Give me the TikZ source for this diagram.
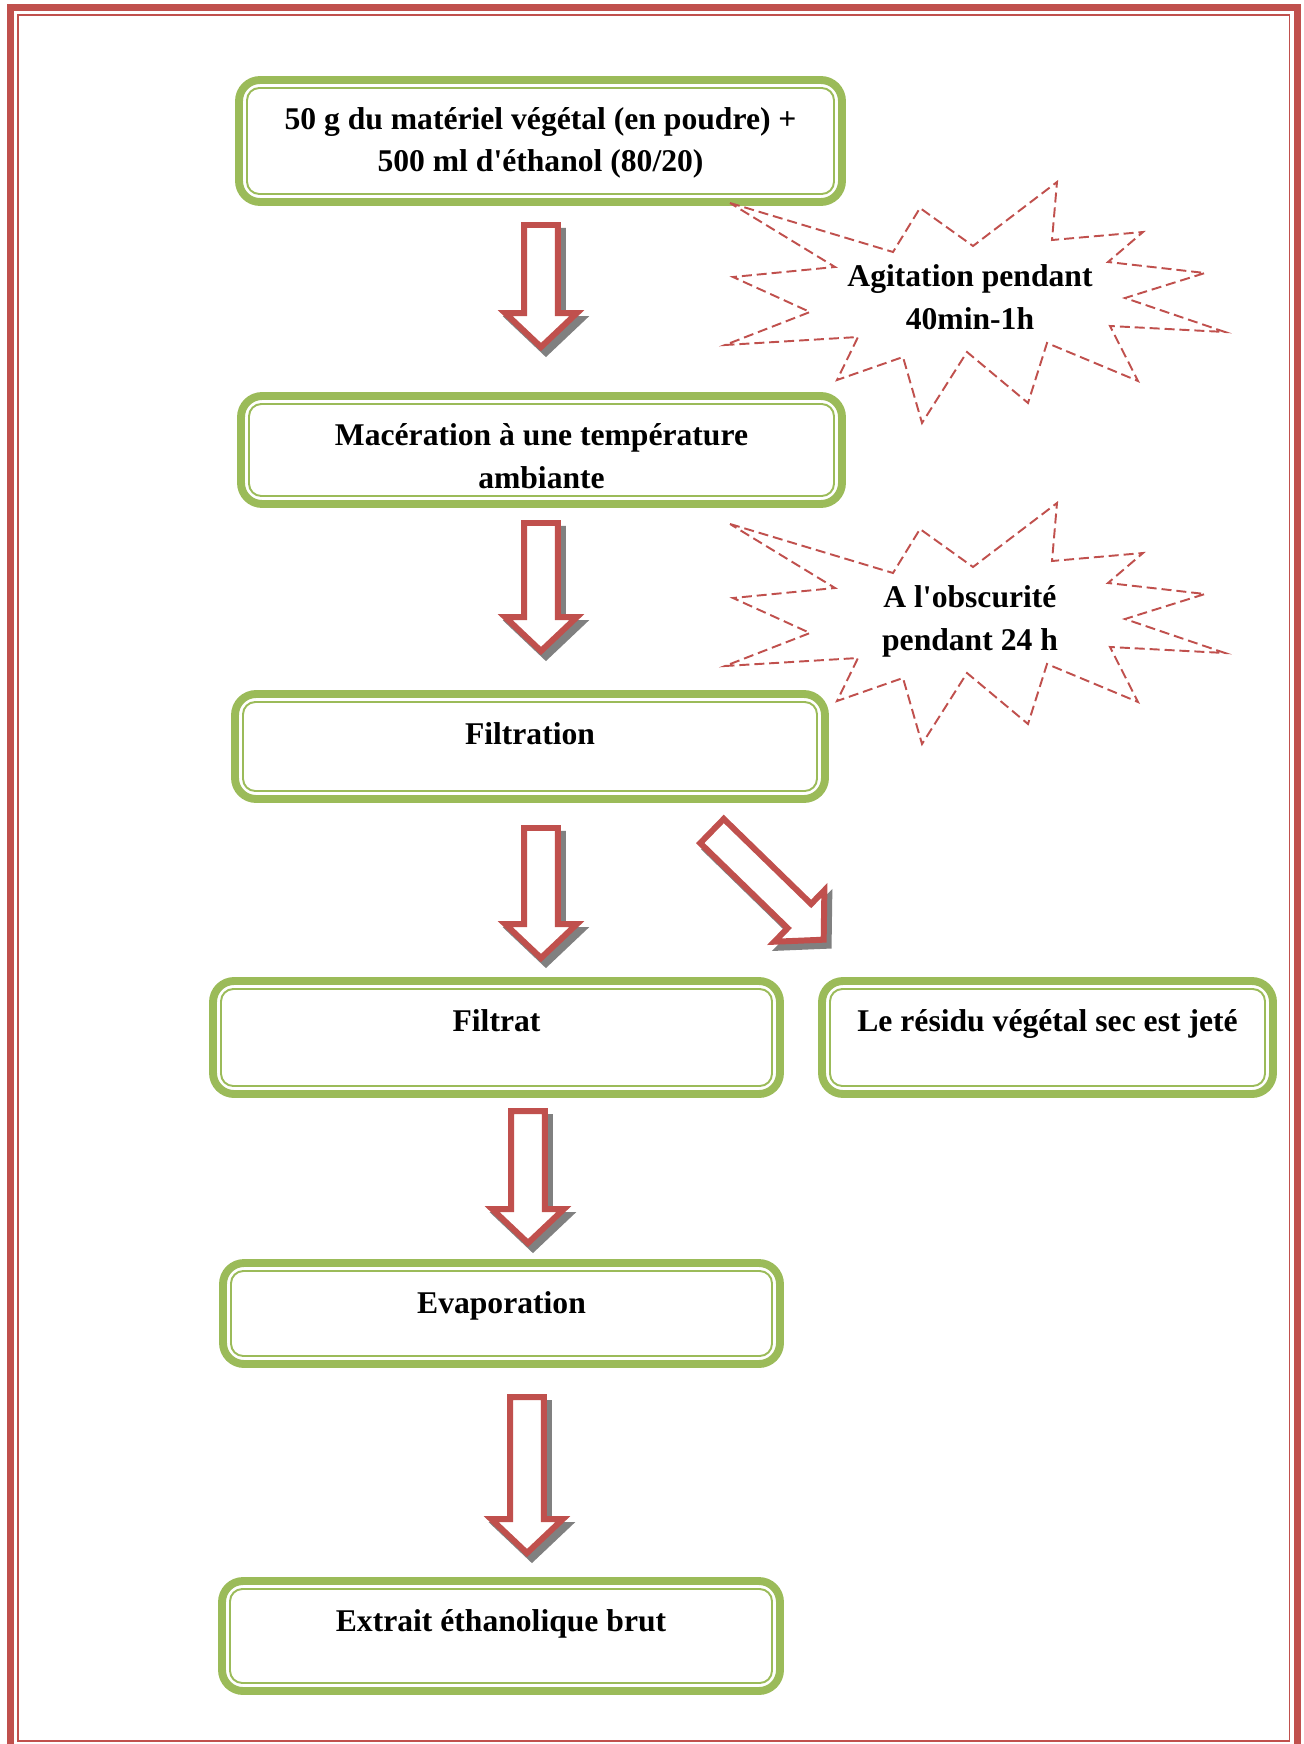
\documentclass[tikz,border=0pt]{standalone}
\usepackage{fontspec}
\setmainfont{Liberation Serif}
\usetikzlibrary{calc}

\definecolor{framered}{HTML}{C0504D}
\definecolor{boxgreen}{HTML}{9BBB59}
\definecolor{shadowgray}{HTML}{808080}

\tikzset{
 greenbox/.style={draw=boxgreen,line width=4.5pt,rounded corners=12pt,inner sep=0pt,outer sep=0pt},
 greenthin/.style={draw=boxgreen,line width=1.1pt,rounded corners=7pt},
 boxtext/.style={align=center,anchor=base,inner sep=0pt},
 burstline/.style={draw=framered,line width=1.1pt,dash pattern=on 5.7pt off 2.8pt},
 arrowshadow/.style={fill=shadowgray,draw=shadowgray,line width=3.4pt},
 arrowbody/.style={fill=white,draw=framered,line width=3.4pt}
}

% hollow block arrow from tail to tip
\newcommand{\blockarrow}[2]{%
 \path #1; \pgfgetlastxy{\bax}{\bay}%
 \path #2; \pgfgetlastxy{\bbx}{\bby}%
 \pgfmathsetmacro{\baang}{atan2(\bby-\bay,\bbx-\bax)}%
 \pgfmathsetmacro{\balen}{veclen(\bbx-\bax,\bby-\bay)}%
 \foreach \sx/\sy/\sty in {2.8/-3.4/arrowshadow,0/0/arrowbody}
  \draw[\sty,shift={(\bax+\sx pt,\bay+\sy pt)},rotate=\baang]
   (0pt,-9.6pt) -- (\balen pt-19.3pt,-9.6pt) -- (\balen pt-19.3pt,-20.4pt)
   -- (\balen pt,0pt) -- (\balen pt-19.3pt,20.4pt) -- (\balen pt-19.3pt,9.6pt)
   -- (0pt,9.6pt) -- cycle;
}

\begin{document}
\begin{tikzpicture}[x=0.02cm,y=-0.02cm,font=\bfseries\fontsize{18}{24}\selectfont]
\useasboundingbox (0,0) rectangle (1304,1744);
% page frame
\draw[framered,line width=4pt] (10.5,7.5) rectangle (1297.5,1749);
\draw[framered,line width=1.1pt] (17.7,15) rectangle (1289.5,1741.3);
% steps
\foreach \n/\cx/\cy/\w/\h/\ty/\txt in {
 b1/540.5/141/603/122/92/{50 g du matériel végétal (en poudre) +\\500 ml d\textquotesingle éthanol (80/20)},
 b2/541.5/450/601/108/92/{Macération à une température\\ambiante},
 b3/530/746.5/590/105/50/{Filtration},
 b4/496.5/1037.5/567/113/50/{Filtrat},
 b5/1047.5/1037.5/451/113/50/{Le résidu végétal sec est jeté},
 b6/501.5/1313.5/557/101/50/{Evaporation},
 b7/501/1636/558/110/50/{Extrait éthanolique brut}}
{
 \node[greenbox,minimum width=\w*0.02cm,minimum height=\h*0.02cm] (\n) at (\cx,\cy) {};
 \draw[greenthin] ($(\n.north west)+(8,8)$) rectangle ($(\n.south east)+(-8,-8)$);
 \node[boxtext] (\n-t) at ($(\n.north)+(0,\ty)$) {\txt};
}
% conditions
\foreach \dy/\n/\txt in {0/agit/{Agitation pendant\\40min-1h},321/obsc/{A l\textquotesingle obscurité\\pendant 24 h}}
{
 \draw[burstline,shift={(0,\dy)}] (730,203) -- (893,252) -- (920,208) -- (973,246) -- (1057,182)
  -- (1052,240) -- (1143,232) -- (1108,262) -- (1205,273) -- (1125,298) -- (1225,332)
  -- (1110,326) -- (1138,381) -- (1047,343) -- (1028,403) -- (967,352) -- (922,423)
  -- (903,357) -- (837,380) -- (858,337) -- (725,345) -- (810,312) -- (733,277)
  -- (835,267) -- cycle;
 \node[boxtext] (\n) at (970,329+\dy) {\txt};
}
% arrows
\blockarrow{($(b1.south)+(0.5,23)$)}{($(b2.north)+(-0.5,-49)$)}
\blockarrow{($(b2.south)+(-0.5,19)$)}{($(b3.north)+(11,-43)$)}
\blockarrow{($(b3.south)+(11,29)$)}{($(b4.north)+(44.5,-23)$)}
\blockarrow{($(b3.south)+(182,32)$)}{($(b5.north west)+(2,-41)$)}
\blockarrow{($(b4.south)+(31.5,17)$)}{($(b6.north)+(26.5,-20)$)}
\blockarrow{($(b6.south)+(25.5,33)$)}{($(b7.north)+(26,-28)$)}
\end{tikzpicture}
\end{document}
